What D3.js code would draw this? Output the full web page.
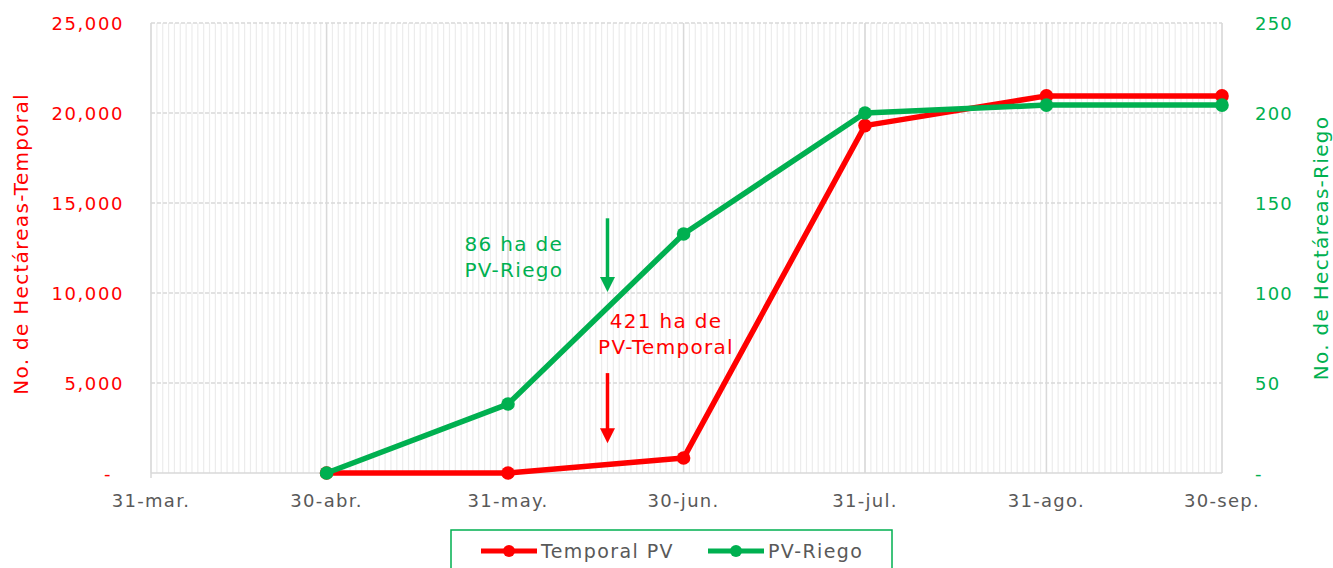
<!DOCTYPE html>
<html>
<head>
<meta charset="utf-8">
<script src="https://cdn.jsdelivr.net/npm/d3@7"></script>
<style>
  html, body { margin: 0; padding: 0; background: #fff; }
  svg { display: block; font-family: "DejaVu Sans", "Noto Sans", sans-serif; }
</style>
</head>
<body>
<svg id="chart" width="1333" height="568"></svg>
<script>
// ---- data ----
const dates = ["2023-04-30", "2023-05-31", "2023-06-30", "2023-07-31", "2023-08-31", "2023-09-30"];
const temporalPV = [0, 0, 830, 19300, 20950, 20950];
const pvRiego = [0, 38.3, 132.8, 200, 204.4, 204.4];
const xTickDates = ["2023-03-31", "2023-04-30", "2023-05-31", "2023-06-30", "2023-07-31", "2023-08-31", "2023-09-30"];
const xTickLabels = ["31-mar.", "30-abr.", "31-may.", "30-jun.", "31-jul.", "31-ago.", "30-sep."];
const leftTicks = [0, 5000, 10000, 15000, 20000, 25000];
const rightTicks = [0, 50, 100, 150, 200, 250];
const seriesNames = ["Temporal PV", "PV-Riego"];

const RED = "#FF0000", GREEN = "#00B050", GRAY = "#595959";
const parse = d3.utcParse("%Y-%m-%d");

const svg = d3.select("#chart");
const m = { left: 151, right: 1222, top: 23, bottom: 473 };

const x = d3.scaleUtc().domain([parse(xTickDates[0]), parse(xTickDates[xTickDates.length - 1])]).range([m.left, m.right]);
const yL = d3.scaleLinear().domain([0, 25000]).range([m.bottom, m.top]);
const yR = d3.scaleLinear().domain([0, 250]).range([m.bottom, m.top]);

// minor vertical gridlines (daily)
const days = d3.utcDay.range(x.domain()[0], d3.utcDay.offset(x.domain()[1], 1));
svg.append("g").selectAll("line").data(days).join("line")
  .attr("x1", d => x(d)).attr("x2", d => x(d))
  .attr("y1", m.top).attr("y2", m.bottom)
  .attr("stroke", "#ececec").attr("stroke-width", 1.2);

// horizontal gridlines
svg.append("g").selectAll("line").data(leftTicks).join("line")
  .attr("x1", m.left).attr("x2", m.right)
  .attr("y1", d => yL(d)).attr("y2", d => yL(d))
  .attr("stroke", "#d9d9d9").attr("stroke-width", 1.3)
  .attr("stroke-dasharray", d => d === 0 ? null : "4,2");

// major vertical gridlines
svg.append("g").selectAll("line").data(xTickDates.map(parse)).join("line")
  .attr("x1", d => x(d)).attr("x2", d => x(d))
  .attr("y1", m.top).attr("y2", (d, i) => i === 0 ? m.bottom + 5 : m.bottom)
  .attr("stroke", "#d9d9d9").attr("stroke-width", 1.5);

// x tick labels
svg.append("g").selectAll("text").data(xTickDates).join("text")
  .attr("x", d => x(parse(d))).attr("y", m.bottom + 34)
  .attr("text-anchor", "middle").attr("fill", GRAY)
  .attr("font-size", 18).attr("letter-spacing", 1.3)
  .text((d, i) => xTickLabels[i]);

// left tick labels
const fmt = d3.format(",");
svg.append("g").selectAll("text").data(leftTicks).join("text")
  .attr("x", d => d === 0 ? 112 : 124).attr("y", d => yL(d) + 6.5)
  .attr("text-anchor", "end").attr("fill", RED)
  .attr("font-size", 18).attr("letter-spacing", 1.6)
  .text(d => d === 0 ? "-" : fmt(d));

// right tick labels
svg.append("g").selectAll("text").data(rightTicks).join("text")
  .attr("x", 1255).attr("y", d => yR(d) + 6.5)
  .attr("text-anchor", "start").attr("fill", GREEN)
  .attr("font-size", 18).attr("letter-spacing", 1.2)
  .text(d => d === 0 ? "-" : d);

// axis titles
svg.append("text")
  .attr("transform", `translate(28,${(m.top + m.bottom) / 2 - 4}) rotate(-90)`)
  .attr("text-anchor", "middle").attr("fill", RED).attr("font-size", 20).attr("letter-spacing", 1.3)
  .text("No. de Hectáreas-Temporal");
svg.append("text")
  .attr("transform", `translate(1328,${(m.top + m.bottom) / 2}) rotate(-90)`)
  .attr("text-anchor", "middle").attr("fill", GREEN).attr("font-size", 20).attr("letter-spacing", 1.3)
  .text("No. de Hectáreas-Riego");

// series
const series = [
  { name: seriesNames[0], values: temporalPV, y: yL, color: RED },
  { name: seriesNames[1], values: pvRiego, y: yR, color: GREEN }
];
series.forEach(s => {
  const pts = dates.map((d, i) => [x(parse(d)), s.y(s.values[i])]);
  svg.append("path").datum(pts)
    .attr("d", d3.line())
    .attr("fill", "none").attr("stroke", s.color).attr("stroke-width", 5.5)
    .attr("stroke-linejoin", "round");
  svg.append("g").selectAll("circle").data(pts).join("circle")
    .attr("cx", d => d[0]).attr("cy", d => d[1]).attr("r", 6.8)
    .attr("fill", s.color);
});

// annotations
const arrowDate = parse("2023-06-17");
function arrow(x0, y0, y1, color) {
  svg.append("line").attr("x1", x0).attr("x2", x0).attr("y1", y0).attr("y2", y1 - 12)
    .attr("stroke", color).attr("stroke-width", 3.5);
  svg.append("path")
    .attr("d", `M${x0 - 7.5},${y1 - 15} L${x0 + 7.5},${y1 - 15} L${x0},${y1} Z`)
    .attr("fill", color);
}
arrow(x(arrowDate), yR(141.5), yR(100.5), GREEN);
arrow(x(arrowDate), yL(5550), yL(1650), RED);

const annG = svg.append("g").attr("font-size", 20).attr("letter-spacing", 1.3).attr("text-anchor", "middle");
annG.append("text").attr("x", x(parse("2023-06-01"))).attr("y", yR(123.3)).attr("fill", GREEN).text("86 ha de");
annG.append("text").attr("x", x(parse("2023-06-01"))).attr("y", yR(108.9)).attr("fill", GREEN).text("PV-Riego");
annG.append("text").attr("x", x(parse("2023-06-27"))).attr("y", yL(8055)).attr("fill", RED).text("421 ha de");
annG.append("text").attr("x", x(parse("2023-06-27"))).attr("y", yL(6611)).attr("fill", RED).text("PV-Temporal");

// legend
const lg = svg.append("g");
lg.append("rect").attr("x", 451).attr("y", 530).attr("width", 441).attr("height", 45)
  .attr("fill", "#fff").attr("stroke", GREEN).attr("stroke-width", 1.5);
const legendItems = [
  { name: seriesNames[0], color: RED, x0: 481 },
  { name: seriesNames[1], color: GREEN, x0: 708 }
];
legendItems.forEach(it => {
  lg.append("line").attr("x1", it.x0).attr("x2", it.x0 + 56).attr("y1", 551).attr("y2", 551)
    .attr("stroke", it.color).attr("stroke-width", 5);
  lg.append("circle").attr("cx", it.x0 + 28).attr("cy", 551).attr("r", 6).attr("fill", it.color);
  lg.append("text").attr("x", it.x0 + 60).attr("y", 558).attr("fill", GRAY).attr("font-size", 19)
    .attr("letter-spacing", 1.4)
    .text(it.name);
});
</script>
</body>
</html>
